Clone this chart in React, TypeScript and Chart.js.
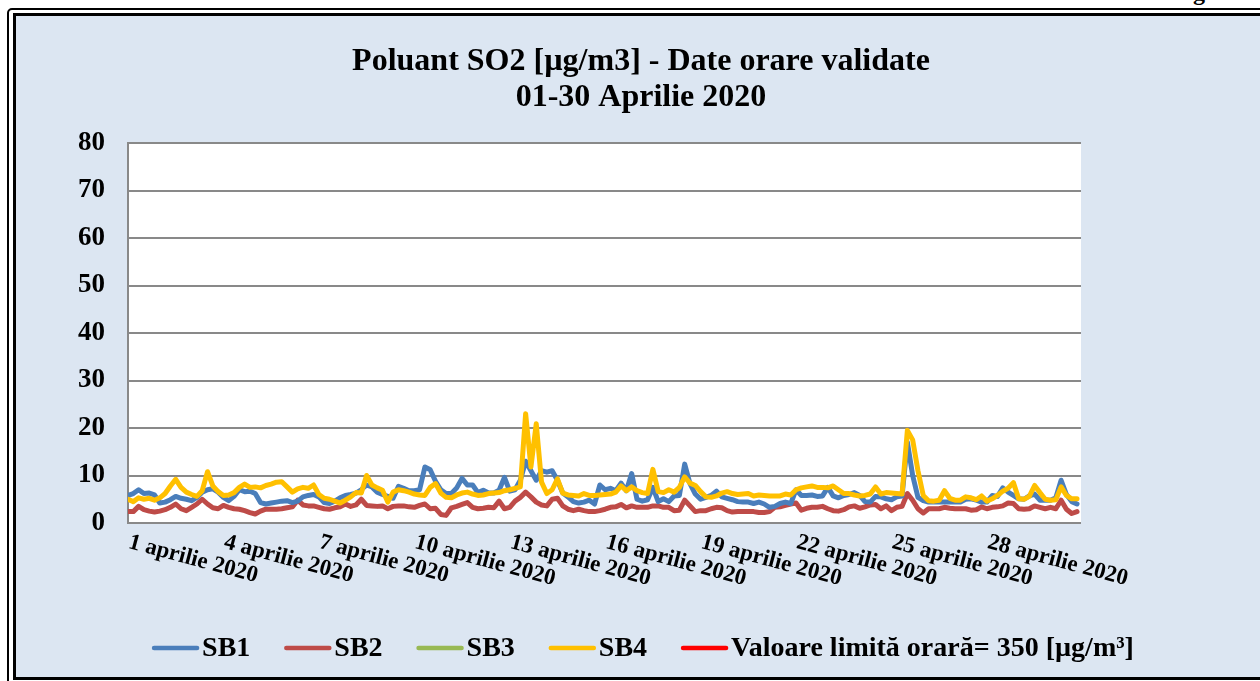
import React, { useEffect, useRef } from "react";
import { Chart, registerables } from "chart.js";

Chart.register(...registerables);

// ---------- data ----------
const TITLE_LINES = ["Poluant SO2 [µg/m3] - Date orare validate", "01-30 Aprilie 2020"];
const HOURS_PER_POINT = 4; // values read every 4 hours from the hourly curves
const TOTAL_HOURS = 720; // 01-30 April

const X_TICK_DAYS = [0, 3, 6, 9, 12, 15, 18, 21, 24, 27];
const X_TICK_LABELS = [
  "1 aprilie 2020",
  "4 aprilie 2020",
  "7 aprilie 2020",
  "10 aprilie 2020",
  "13 aprilie 2020",
  "16 aprilie 2020",
  "19 aprilie 2020",
  "22 aprilie 2020",
  "25 aprilie 2020",
  "28 aprilie 2020",
];
const Y_MIN = 0;
const Y_MAX = 80;
const Y_STEP = 10;

const SERIES_NAMES = ["SB1", "SB2", "SB3", "SB4", "Valoare limită orară= 350 [µg/m³]"];

const SB1 = [
  5.8, 6.2, 7.0, 6.2, 6.3, 5.9, 4.2, 4.4, 4.9, 5.6, 5.2, 5.0, 4.7, 5.4, 6.5, 7.0, 7.2, 6.5, 5.4, 4.7, 5.6, 7.0, 6.6, 6.7,
  6.2, 4.3, 4.0, 4.2, 4.4, 4.6, 4.7, 4.3, 4.6, 5.5, 5.8, 6.0, 5.5, 4.3, 4.1, 4.6, 5.3, 5.8, 6.0, 6.3, 7.0, 8.0,
  7.6, 6.5, 6.0, 5.6, 5.2, 7.7, 7.3, 6.8, 6.8, 7.0, 11.8, 11.2, 8.8, 7.0, 6.2, 6.2, 7.4, 9.4, 8.0, 8.0, 6.4, 6.9, 6.3,
  6.3, 6.9, 9.6, 6.7, 7.0, 9.0, 13.0, 11.0, 9.0, 11.0, 10.7, 11.0, 9.0, 6.3, 5.5, 4.5, 4.2, 4.4, 4.8, 4.0, 8.0, 7.0, 7.3,
  6.8, 8.4, 6.8, 10.4, 5.0, 4.6, 4.9, 7.5, 4.5, 5.1, 4.5, 5.7, 5.8, 12.4, 8.3, 6.1, 5.0, 5.4, 5.8, 6.7, 5.5, 5.2, 4.9,
  4.5, 4.4, 4.4, 4.1, 4.4, 4.0, 3.3, 3.5, 4.1, 4.4, 4.1, 7.0, 5.8, 5.8, 5.9, 5.6, 5.7, 7.5, 5.7, 5.3, 5.8, 6.0,
  6.4, 5.8, 4.5, 4.4, 5.6, 5.5, 5.1, 4.9, 5.5, 5.7, 17.0, 10.0, 5.4, 4.7, 4.4, 4.4, 4.4, 4.4, 4.4, 4.4, 4.4, 5.0, 5.1,
  4.8, 4.4, 4.4, 5.8, 5.6, 7.4, 6.5, 5.8, 5.1, 5.0, 5.7, 6.1, 4.8, 4.8, 4.8, 5.3, 9.0, 6.0, 4.5, 4.0,
];

const SB2 = [
  2.4, 2.4, 3.5, 2.8, 2.5, 2.3, 2.5, 2.8, 3.3, 4.0, 3.0, 2.6, 3.3, 4.0, 5.0, 4.0, 3.2, 3.0, 3.7, 3.3, 3.0, 2.9, 2.6, 2.2,
  1.9, 2.5, 2.9, 2.9, 2.9, 3.0, 3.2, 3.4, 4.8, 3.8, 3.6, 3.6, 3.3, 3.0, 2.9, 3.2, 3.4, 4.0, 3.5, 3.8, 5.0, 3.7,
  3.6, 3.5, 3.6, 3.0, 3.5, 3.6, 3.6, 3.4, 3.3, 3.7, 4.0, 3.0, 3.1, 1.8, 1.6, 3.2, 3.5, 3.9, 4.3, 3.3, 3.0, 3.1, 3.3,
  3.2, 4.6, 3.0, 3.3, 4.6, 5.4, 6.5, 5.5, 4.4, 3.8, 3.6, 5.0, 5.2, 3.6, 2.9, 2.6, 2.9, 2.6, 2.4, 2.4, 2.6, 2.9, 3.3,
  3.4, 3.9, 3.2, 3.6, 3.3, 3.3, 3.3, 3.6, 3.6, 3.3, 3.3, 2.6, 2.7, 4.8, 3.6, 2.4, 2.6, 2.6, 3.0, 3.3, 3.2, 2.6, 2.3,
  2.4, 2.4, 2.4, 2.4, 2.2, 2.2, 2.4, 3.3, 3.4, 3.7, 4.0, 4.2, 2.7, 3.1, 3.3, 3.3, 3.5, 3.0, 2.6, 2.5, 2.8, 3.4,
  3.6, 3.1, 3.4, 3.8, 3.9, 3.0, 3.6, 2.6, 3.3, 3.5, 6.2, 4.8, 3.0, 2.1, 3.0, 3.0, 3.0, 3.3, 3.1, 3.0, 3.0, 3.0, 2.7,
  2.8, 3.4, 3.0, 3.3, 3.4, 3.6, 4.2, 4.1, 3.0, 2.9, 3.0, 3.6, 3.3, 3.0, 3.3, 3.0, 4.8, 2.9, 2.0, 2.4,
];

const SB3: number[] = []; // no validated data in the period

const SB4 = [
  5.0, 4.5, 5.3, 5.0, 5.2, 4.8, 5.3, 6.2, 7.8, 9.2, 7.5, 6.5, 6.0, 5.6, 6.8, 10.8, 7.8, 6.6, 5.8, 5.9, 6.4, 7.5, 8.2,
  7.5, 7.6, 7.4, 7.9, 8.2, 8.6, 8.7, 7.6, 6.5, 7.2, 7.5, 7.3, 8.0, 6.0, 5.2, 5.0, 4.6, 4.2, 4.8, 5.5, 6.4, 6.3, 10.0,
  8.0, 7.4, 6.9, 4.4, 6.5, 7.0, 6.8, 6.5, 6.1, 5.9, 5.8, 7.5, 8.3, 6.3, 5.4, 5.3, 5.9, 6.3, 6.5, 6.1, 5.8, 5.9, 6.2,
  6.3, 6.4, 6.8, 7.0, 7.3, 7.6, 23.0, 11.8, 20.9, 8.6, 6.2, 7.0, 9.3, 6.3, 5.9, 5.8, 5.7, 6.2, 5.8, 5.8, 5.9, 6.0, 6.1,
  6.5, 7.8, 6.8, 7.6, 6.8, 6.4, 6.2, 11.3, 6.6, 6.4, 7.0, 6.5, 7.5, 9.7, 8.4, 7.9, 6.6, 5.5, 5.4, 5.7, 6.3, 6.6, 6.2,
  6.0, 6.1, 6.2, 5.7, 5.9, 5.8, 5.7, 5.7, 5.7, 6.1, 5.9, 7.0, 7.4, 7.6, 7.8, 7.5, 7.5, 7.4, 7.8, 7.0, 6.2, 6.2,
  5.9, 5.7, 5.8, 6.1, 7.6, 6.1, 6.4, 6.3, 6.2, 6.1, 19.5, 17.5, 11.0, 5.8, 4.7, 4.6, 4.8, 6.8, 5.2, 4.8, 4.8, 5.5, 5.3,
  4.9, 5.7, 4.6, 5.1, 5.8, 6.7, 7.3, 8.5, 5.1, 5.0, 5.6, 7.9, 6.4, 5.0, 4.8, 4.9, 7.6, 5.8, 5.1, 5.1,
];

const LIMIT_VALUE = 350;

// ---------- styling ----------
const COLORS = ["#4A7EBB", "#BE4B48", "#98B954", "#FFC000", "#FF0000"];
const FONT = "'Liberation Serif', 'Times New Roman', serif";
const GRID = "#898989";

const toPoints = (vals: number[]) =>
  vals.map((v, i) => ({ x: (i * HOURS_PER_POINT) / 24, y: v }));

const decorPlugin = {
  id: "decor",
  beforeDraw(chart: any) {
    const { ctx, chartArea } = chart;
    ctx.save();
    ctx.fillStyle = "#ffffff";
    ctx.fillRect(chartArea.left, chartArea.top, chartArea.right - chartArea.left, chartArea.bottom - chartArea.top);
    ctx.restore();
  },
  afterDraw(chart: any) {
    const { ctx, chartArea } = chart;
    const xs = chart.scales.x;
    ctx.save();
    ctx.fillStyle = "#000";
    // title
    ctx.font = `bold 32px ${FONT}`;
    ctx.textAlign = "center";
    ctx.textBaseline = "middle";
    TITLE_LINES.forEach((t, k) => ctx.fillText(t, 641, 62 + k * 36));
    // x labels, rotated clockwise, starting at their day
    ctx.font = `bold 23px ${FONT}`;
    ctx.textAlign = "left";
    ctx.textBaseline = "top";
    X_TICK_DAYS.forEach((d, k) => {
      const px = xs.getPixelForValue(d);
      ctx.save();
      ctx.translate(px + 4, chartArea.bottom + 8);
      ctx.rotate((15 * Math.PI) / 180);
      ctx.fillText(X_TICK_LABELS[k], 0, 0);
      ctx.restore();
    });
    // legend
    ctx.font = `bold 28px ${FONT}`;
    ctx.textBaseline = "middle";
    const sample = 47;
    const gapText = 3;
    const gapItem = 34;
    const ds = chart.data.datasets;
    const widths = ds.map((d: any) => sample + gapText + ctx.measureText(d.label).width);
    const total = widths.reduce((a: number, b: number) => a + b, 0) + gapItem * (ds.length - 1);
    let x = 643 - total / 2;
    const y = 648;
    ds.forEach((d: any, k: number) => {
      ctx.strokeStyle = d.borderColor;
      ctx.lineWidth = 4.5;
      ctx.lineCap = "round";
      ctx.beginPath();
      ctx.moveTo(x + 2, y);
      ctx.lineTo(x + sample - 2, y);
      ctx.stroke();
      ctx.fillText(d.label, x + sample + gapText, y + 1);
      x += widths[k] + gapItem;
    });
    ctx.restore();
  },
};

export default function App() {
  const ref = useRef<HTMLCanvasElement | null>(null);

  useEffect(() => {
    if (!ref.current) return;
    const lastX = (TOTAL_HOURS - 1) / 24;
    const mk = (k: number, data: any[], order: number) => ({
      label: SERIES_NAMES[k],
      data,
      borderColor: COLORS[k],
      backgroundColor: COLORS[k],
      borderWidth: 5,
      borderJoinStyle: "round",
      borderCapStyle: "round",
      pointRadius: 0,
      tension: 0,
      fill: false,
      order,
    });
    const chart = new Chart(ref.current, {
      type: "line",
      data: {
        datasets: [
          mk(0, toPoints(SB1), 3),
          mk(1, toPoints(SB2), 4),
          mk(2, toPoints(SB3), 2),
          mk(3, toPoints(SB4), 1),
          mk(4, [
            { x: 0, y: LIMIT_VALUE },
            { x: lastX, y: LIMIT_VALUE },
          ], 0),
        ],
      },
      options: {
        animation: false,
        responsive: false,
        events: [],
        layout: { padding: { left: 0, top: 143, right: 179, bottom: 158 } },
        plugins: {
          legend: { display: false },
          title: { display: false },
          tooltip: { enabled: false },
        },
        scales: {
          x: {
            type: "linear",
            min: 0,
            max: lastX,
            grid: { display: false },
            border: { display: false },
            ticks: { display: false },
            afterFit: (s: any) => {
              s.height = 0;
            },
          },
          y: {
            min: Y_MIN,
            max: Y_MAX,
            ticks: {
              stepSize: Y_STEP,
              padding: 23,
              color: "#000",
              font: { family: FONT, size: 27, weight: "bold" },
            },
            grid: { color: GRID, lineWidth: 2, drawTicks: false },
            border: { display: true, color: GRID, width: 2 },
            afterFit: (s: any) => {
              s.width = 128;
            },
          },
        },
      },
      plugins: [decorPlugin],
    });
    return () => chart.destroy();
  }, []);

  return (
    <div
      style={{
        position: "fixed",
        left: 0,
        top: 0,
        width: 1260,
        height: 681,
        overflow: "hidden",
        background: "#fff",
      }}
    >
      <div
        style={{
          position: "absolute",
          left: 1193,
          top: -20,
          font: `bold 24px ${FONT}`,
          lineHeight: "24px",
          color: "#000",
        }}
      >
        g
      </div>
      <div
        style={{
          position: "absolute",
          left: 7,
          top: 8,
          width: 1320,
          height: 720,
          border: "2px solid #000",
          borderRadius: 5,
          background: "#fff",
          boxSizing: "border-box",
        }}
      />
      <div
        style={{
          position: "absolute",
          left: 13,
          top: 13,
          width: 1320,
          height: 667,
          border: "3px solid #000",
          background: "#DCE6F2",
          boxSizing: "border-box",
        }}
      />
      <canvas ref={ref} width={1260} height={681} style={{ position: "absolute", left: 0, top: 0 }} />
    </div>
  );
}
